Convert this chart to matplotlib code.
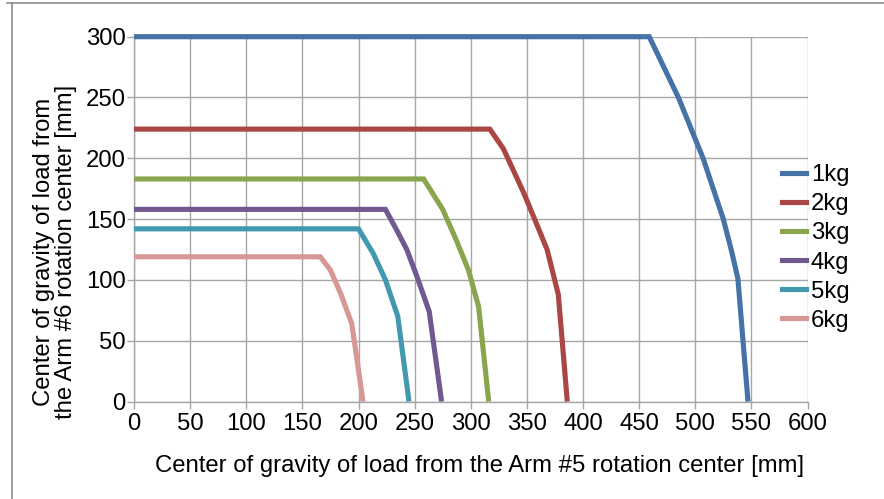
import matplotlib
matplotlib.use("Agg")
import matplotlib.pyplot as plt
from matplotlib.lines import Line2D

plt.rcParams['font.family'] = ['Liberation Sans', 'DejaVu Sans']

labels = ["1kg", "2kg", "3kg", "4kg", "5kg", "6kg"]
colors = ["#4572A7", "#AA4643", "#89A54E", "#71588F", "#4198AF", "#D69795"]

x_1kg = [0, 459, 472, 485, 496, 507, 516, 525, 532, 538, 547]
y_1kg = [300, 300, 275, 250, 225, 200, 175, 150, 125, 101, 0]
x_2kg = [0, 317, 329, 347, 356, 368, 378, 386]
y_2kg = [224, 224, 208, 172, 152, 125, 88, 0]
x_3kg = [0, 258, 275, 287, 298, 307, 316]
y_3kg = [183, 183, 158, 133, 108, 78, 0]
x_4kg = [0, 224, 234, 243, 252, 263, 274]
y_4kg = [158, 158, 141, 125, 103, 74, 0]
x_5kg = [0, 200, 213, 224, 235, 245]
y_5kg = [142, 142, 122, 100, 70, 0]
x_6kg = [0, 166, 175, 184, 194, 204]
y_6kg = [119, 119, 108, 89, 64, 0]

xs = [x_1kg, x_2kg, x_3kg, x_4kg, x_5kg, x_6kg]
ys = [y_1kg, y_2kg, y_3kg, y_4kg, y_5kg, y_6kg]

x_ticks = list(range(0, 601, 50))
y_ticks = list(range(0, 301, 50))

FS = 17.2

fig = plt.figure(figsize=(8.84, 4.99), dpi=100)
ax = fig.add_axes([134/884, 1 - 401.5/499, (807.5 - 134)/884, (401.5 - 36.7)/499])

for x, y, c, l in zip(xs, ys, colors, labels):
    ax.plot(x, y, color=c, lw=3.7, label=l, solid_joinstyle='miter',
            solid_capstyle='butt', zorder=3, clip_on=False)

ax.set_xlim(0, 600)
ax.set_ylim(0, 300)
ax.set_xticks(x_ticks)
ax.set_yticks(y_ticks)
ax.grid(True, color="#a6a6a6", lw=1.0, zorder=0)
for s in ['top', 'right']:
    ax.spines[s].set_visible(False)
for s in ['left', 'bottom']:
    ax.spines[s].set_color("#a6a6a6")
    ax.spines[s].set_linewidth(1.0)
ax.tick_params(axis='both', colors="#a6a6a6", labelcolor="black", labelsize=FS,
               length=5, width=1.0, direction='out')
ax.tick_params(axis='x', pad=3)
ax.tick_params(axis='y', pad=1)

ax.set_xlabel("Center of gravity of load from the Arm #5 rotation center [mm]",
              fontsize=FS)
ax.xaxis.set_label_coords((480 - 134) / (807.5 - 134), -0.148)
ax.set_ylabel("Center of gravity of load from\nthe Arm #6 rotation center [mm]",
              fontsize=FS, linespacing=1.0)
ax.yaxis.set_label_coords((77 - 134) / (807.5 - 134), 0.41)

handles = [Line2D([0], [0], color=c, lw=3.7) for c in colors]
leg = ax.legend(handles, labels, loc='upper left', bbox_to_anchor=(782/884, 1 - 164/499),
                bbox_transform=fig.transFigure, frameon=False, fontsize=FS,
                handlelength=1.0, handletextpad=0.2, labelspacing=0.3, borderpad=0,
                borderaxespad=0)

# outer frame (top and left edges visible)
fig.add_artist(Line2D([12/884, 12/884], [0, 1 - 3/499], color="#8c8c8c", lw=1.2,
                      transform=fig.transFigure))
fig.add_artist(Line2D([7/884, 1], [1 - 3/499, 1 - 3/499], color="#8c8c8c", lw=1.2,
                      transform=fig.transFigure))

fig.savefig("out.png", dpi=100)
